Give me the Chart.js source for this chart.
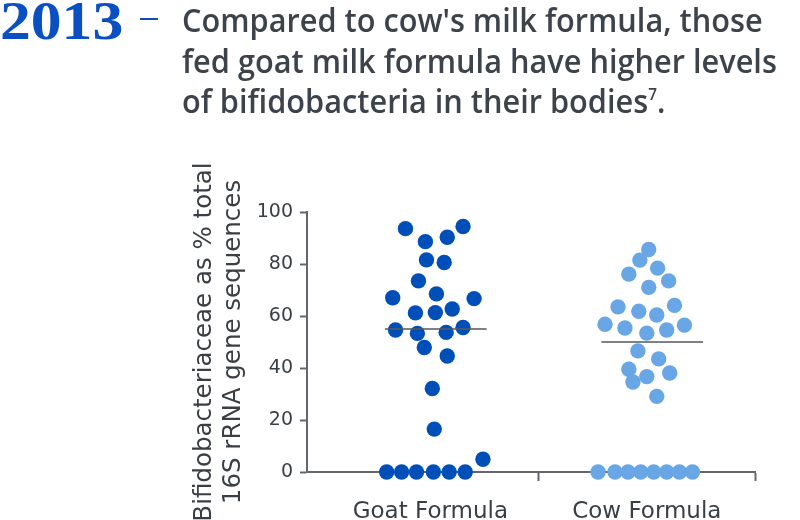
<!DOCTYPE html>
<html lang="en">
<head>
    <meta charset="UTF-8">
    <title>Bifidobacteria: goat vs cow milk formula</title>
    <script src="https://cdn.jsdelivr.net/npm/chart.js"></script>
    <style>
        body {
            margin: 0;
            background: #ffffff;
        }

        #wrap {
            position: relative;
            width: 800px;
            height: 520px;
        }

        #year {
            position: absolute;
            left: 0;
            top: -11px;
            font-family: "Liberation Serif", serif;
            font-weight: bold;
            font-size: 55px;
            color: #0a50c2;
            transform: scaleX(1.12);
            transform-origin: left top;
        }

        #dash {
            position: absolute;
            left: 140px;
            top: 18px;
            width: 18px;
            height: 2px;
            background: #0a50c2;
        }

        #headline {
            position: absolute;
            left: 182px;
            top: 0px;
            font-family: "Open Sans", sans-serif;
            font-weight: 600;
            font-size: 32px;
            line-height: 40.5px;
            color: #3d434a;
            white-space: nowrap;
            transform: scaleX(0.96);
            transform-origin: left top;
        }

        #headline sup {
            font-size: 16px;
            line-height: 0;
            vertical-align: baseline;
            position: relative;
            top: -13px;
        }

        canvas {
            position: absolute;
            left: 0;
            top: 0;
        }
    </style>
</head>
<body>
<div id="wrap">
    <canvas id="swarm" width="800" height="520"></canvas>
    <div id="year">2013</div>
    <div id="dash"></div>
    <div id="headline">Compared to cow's milk formula, those<br>fed goat milk formula have higher levels<br>of bifidobacteria in their bodies<sup>7</sup>.</div>
</div>

<script>
    const groups = ['Goat Formula', 'Cow Formula'];
    const yTicks = [0, 20, 40, 60, 80, 100];

    // values, with horizontal spread (in category units) of each dot
    const goatValues = [93.6, 94.4, 88.6, 90.3, 81.6, 80.6, 73.5, 68.5, 67.0, 66.7,
        61.2, 61.3, 62.7, 54.6, 53.3, 53.7, 55.6, 47.9, 44.6, 32.1, 16.5, 4.9,
        0, 0, 0, 0, 0, 0];
    const goatSpread = [-0.115, 0.151, -0.023, 0.078, -0.018, 0.064, -0.055, 0.028, -0.174, 0.202,
        -0.069, 0.023, 0.101, -0.161, -0.060, 0.073, 0.151, -0.028, 0.078, 0.009, 0.018, 0.243,
        -0.202, -0.133, -0.064, 0.014, 0.087, 0.161];

    const cowValues = [85.6, 81.5, 78.4, 76.1, 73.5, 71.0, 63.5, 64.1, 61.8, 60.4,
        56.8, 55.4, 53.4, 54.6, 56.5, 46.6, 43.5, 39.5, 38.1, 34.6, 36.7, 29.1,
        0, 0, 0, 0, 0, 0, 0, 0];
    const cowSpread = [0.009, -0.032, 0.050, -0.083, 0.101, 0.009, -0.133, 0.128, -0.037, 0.046,
        -0.193, -0.101, 0.000, 0.092, 0.174, -0.041, 0.055, -0.083, 0.106, -0.064, 0.000, 0.046,
        -0.225, -0.147, -0.087, -0.028, 0.032, 0.092, 0.151, 0.211];

    const medians = [55, 50];

    const axisGrey = '#63666b';
    const textGrey = '#3a3f45';

    function dots(values, spread, pos) {
        return values.map((v, i) => ({x: pos + spread[i], y: v}));
    }

    function medianLine(pos, m) {
        return [{x: pos - 0.21, y: m}, {x: pos + 0.26, y: m}];
    }

    const ctx = document.getElementById('swarm').getContext('2d');

    new Chart(ctx, {
        type: 'scatter',
        data: {
            datasets: [
                {
                    type: 'line',
                    data: medianLine(1, medians[0]),
                    borderColor: '#55585c',
                    borderWidth: 1.5,
                    pointRadius: 0,
                    order: 0
                },
                {
                    type: 'line',
                    data: medianLine(2, medians[1]),
                    borderColor: '#55585c',
                    borderWidth: 1.5,
                    pointRadius: 0,
                    order: 0
                },
                {
                    label: groups[0],
                    data: dots(goatValues, goatSpread, 1),
                    backgroundColor: '#004fb8',
                    borderWidth: 0,
                    pointRadius: 7.7,
                    order: 1
                },
                {
                    label: groups[1],
                    data: dots(cowValues, cowSpread, 2),
                    backgroundColor: '#68a6e6',
                    borderWidth: 0,
                    pointRadius: 7.7,
                    order: 1
                }
            ]
        },
        options: {
            responsive: false,
            animation: false,
            clip: false,
            layout: {
                padding: {left: 190, right: 45, top: 212, bottom: 0}
            },
            plugins: {
                legend: {display: false},
                tooltip: {enabled: false}
            },
            scales: {
                x: {
                    type: 'linear',
                    min: 0.43,
                    max: 2.5,
                    afterBuildTicks: scale => {
                        scale.ticks = [1, 1.5, 2, 2.5].map(v => ({value: v}));
                    },
                    afterFit: scale => {
                        scale.height = 48;
                    },
                    border: {color: axisGrey, width: 2},
                    grid: {
                        drawOnChartArea: false,
                        tickLength: 9,
                        tickWidth: 2,
                        tickColor: c => (c.tick && c.tick.value % 1 !== 0) ? axisGrey : 'rgba(0,0,0,0)'
                    },
                    ticks: {
                        autoSkip: false,
                        maxRotation: 0,
                        padding: 20,
                        color: textGrey,
                        font: {family: 'DejaVu Sans', size: 23, lineHeight: 1},
                        callback: v => (v % 1 === 0 ? groups[v - 1] : '')
                    }
                },
                y: {
                    min: 0,
                    max: 100,
                    afterBuildTicks: scale => {
                        scale.ticks = yTicks.map(v => ({value: v}));
                    },
                    afterFit: scale => {
                        scale.width = 117;
                    },
                    border: {color: axisGrey, width: 2},
                    grid: {
                        drawOnChartArea: false,
                        tickLength: 7,
                        tickWidth: 2,
                        tickColor: axisGrey
                    },
                    ticks: {
                        padding: 7,
                        color: textGrey,
                        font: {family: 'DejaVu Sans', size: 19}
                    },
                    title: {
                        display: true,
                        text: ['Bifidobacteriaceae as % total', '16S rRNA gene sequences'],
                        color: textGrey,
                        font: {family: 'DejaVu Sans', size: 24.5, lineHeight: 1.2},
                        padding: 0
                    }
                }
            }
        }
    });
</script>
</body>
</html>
